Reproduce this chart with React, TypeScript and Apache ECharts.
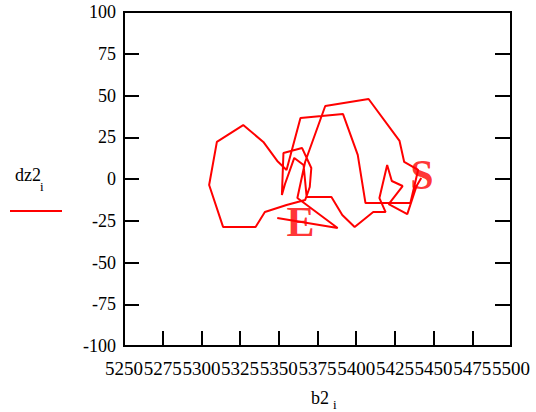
import React, { useEffect, useRef } from "react";
import * as echarts from "echarts";

const b2Values = [
  5442, 5439, 5433, 5421, 5430, 5423, 5420, 5415, 5419, 5411, 5399, 5391, 5384,
  5377, 5368, 5366, 5360, 5354, 5352, 5353, 5365, 5371, 5370, 5367, 5355, 5341,
  5335, 5314, 5305, 5310, 5327, 5340, 5349, 5355, 5364, 5391.5, 5401, 5406, 5422,
  5435, 5440, 5431, 5428, 5408, 5380, 5367, 5362, 5388, 5349,
];
const dz2Values = [
  0.6, -4.2, -21, -15, -4.2, -1.2, 8.4, -11.4, -19.8, -19.8, -28.7, -21.6, -10.8,
  -10.8, -10.8, 8.4, 12.6, -3, -9.6, 15.6, 18.6, 6.6, -4.8, -12.6, -15.6, -19.8,
  -28.7, -28.7, -3.6, 22.2, 32.3, 22.2, 10.8, 5.4, 36.5, 38.9, 14.4, -14.4, -14.4,
  -14.4, 5.4, 10.2, 22.8, 47.9, 43.7, 10.2, -11.4, -29.3, -23.4,
];
const markerLabels = ["S", "E"];
const markerPoints = [
  [5442.5, 2.5],
  [5364, -25.5],
];

const FONT = "'Liberation Serif', 'Times New Roman', serif";

export default function App() {
  const ref = useRef<HTMLDivElement>(null);
  useEffect(() => {
    document.body.style.margin = "0";
    if (!ref.current) return;
    const chart = echarts.init(ref.current, null, { renderer: "svg" });
    const data = b2Values.map((x, i) => [x, dz2Values[i]]);
    const axisLine = { show: true, onZero: false, lineStyle: { color: "#000", width: 2 } };
    const tick = (len: number) => ({
      show: true,
      inside: true,
      length: len,
      lineStyle: { color: "#000", width: 2 },
    });
    chart.setOption({
      animation: false,
      backgroundColor: "#fff",
      grid: {
        left: 124,
        right: 25,
        top: 12,
        bottom: 66,
        show: true,
        borderColor: "#000",
        borderWidth: 2,
        containLabel: false,
        outerBoundsMode: "none",
      },
      xAxis: [
        {
          type: "value",
          position: "bottom",
          min: 5250,
          max: 5500,
          interval: 25,
          axisLine,
          axisTick: tick(15),
          splitLine: { show: false },
          axisLabel: {
            color: "#000",
            fontFamily: FONT,
            fontSize: 19,
            margin: 13,
            showMinLabel: true,
            showMaxLabel: true,
            hideOverlap: false,
            formatter: (v: number) => String(v),
          },
        },
      ],
      yAxis: [
        {
          type: "value",
          position: "left",
          min: -100,
          max: 100,
          interval: 25,
          axisLine,
          axisTick: tick(15),
          splitLine: { show: false },
          axisLabel: {
            color: "#000",
            fontFamily: FONT,
            fontSize: 18,
            margin: 8,
            formatter: (v: number) => String(v),
          },
        },
        {
          type: "value",
          position: "right",
          min: -100,
          max: 100,
          interval: 25,
          axisLine,
          axisTick: tick(16),
          splitLine: { show: false },
          axisLabel: { show: false },
        },
      ],
      series: [
        {
          type: "line",
          data,
          showSymbol: false,
          symbol: "none",
          lineStyle: { color: "#ff0000", width: 2 },
          z: 3,
        },
        {
          type: "scatter",
          symbolSize: 1,
          itemStyle: { color: "rgba(0,0,0,0)" },
          data: markerPoints.map((p, i) => ({
            value: p,
            label: {
              show: true,
              position: "inside",
              formatter: markerLabels[i],
              color: "#ff0000",
              fontFamily: FONT,
              fontWeight: "bold",
              fontSize: 42,
            },
          })),
          z: 4,
        },
      ],
      graphic: [
        {
          type: "text",
          left: 311,
          top: 389,
          style: { text: "b2", fill: "#000", font: `18px ${FONT}` },
        },
        {
          type: "text",
          left: 333,
          top: 398,
          style: { text: "i", fill: "#000", font: `13px ${FONT}` },
        },
        {
          type: "text",
          left: 15,
          top: 166,
          style: { text: "dz2", fill: "#000", font: `18px ${FONT}` },
        },
        {
          type: "text",
          left: 40,
          top: 180,
          style: { text: "i", fill: "#000", font: `13px ${FONT}` },
        },
        {
          type: "line",
          shape: { x1: 10, y1: 211, x2: 62, y2: 211 },
          style: { stroke: "#ff0000", lineWidth: 2 },
        },
      ],
    });
    return () => chart.dispose();
  }, []);
  return <div ref={ref} style={{ width: 536, height: 412 }} />;
}
